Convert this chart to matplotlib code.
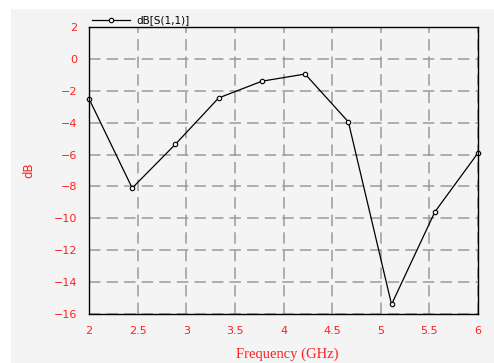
import matplotlib.pyplot as plt
from matplotlib.patches import Rectangle

# S11 sweep, 10 points between 2 and 6 GHz
freq_ghz = [2.0, 2.444, 2.889, 3.333, 3.778, 4.222, 4.667, 5.111, 5.556, 6.0]
s11_db = [-2.5, -8.1, -5.35, -2.45, -1.4, -0.95, -3.95, -15.4, -9.6, -5.9]

x_ticks = [2, 2.5, 3, 3.5, 4, 4.5, 5, 5.5, 6]
x_tick_labels = ["2", "2.5", "3", "3.5", "4", "4.5", "5", "5.5", "6"]
y_ticks = [2, 0, -2, -4, -6, -8, -10, -12, -14, -16]

panel = "#f4f4f4"
red = "#ff2020"

fig = plt.figure(figsize=(4.94, 3.63), dpi=100)
fig.patch.set_facecolor("white")
fig.patches.append(Rectangle((0.0223, 0), 1, 0.975, transform=fig.transFigure,
                             facecolor=panel, edgecolor="none", zorder=-10))

ax = fig.add_axes([0.1802, 0.135, 0.7874, 0.7906])
ax.set_facecolor(panel)

ax.plot(freq_ghz, s11_db, color="black", lw=0.9, marker="o", ms=3.2,
        mfc=panel, mec="black", mew=0.8, label="dB[S(1,1)]", clip_on=False)

ax.set_xlim(2, 6)
ax.set_ylim(-16, 2)
ax.set_xticks(x_ticks)
ax.set_xticklabels(x_tick_labels)
ax.set_yticks(y_ticks)
ax.tick_params(length=0, labelsize=8, labelcolor=red, pad=8.5)
ax.grid(True, color="#9a9a9a", lw=1.1, linestyle=(0, (7.5, 4)))
for s in ax.spines.values():
    s.set_color("black")
    s.set_linewidth(1)

leg = ax.legend(loc="lower left", bbox_to_anchor=(0, 0.995), frameon=False,
                fontsize=7.5, handlelength=3.6, handletextpad=0.6,
                borderaxespad=0.1, borderpad=0.2)

ax.set_ylabel("dB", color=red, fontsize=8.5)
ax.yaxis.set_label_coords(-0.139, 0.5)
fig.text(287 / 494, 1 - 348 / 363, "Frequency (GHz)", color=red,
         fontsize=10.5, family="Liberation Serif", ha="center", va="top")

fig.savefig("out.png", dpi=100)
